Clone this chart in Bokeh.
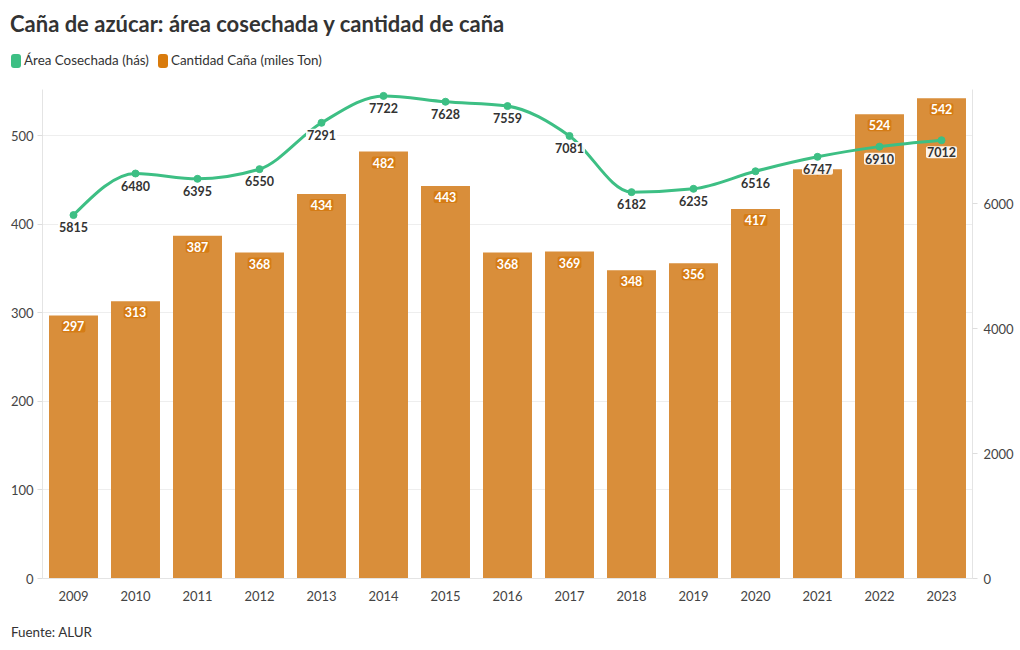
import numpy as np
from bokeh.plotting import figure
from bokeh.layouts import column
from bokeh.models import Range1d, LinearAxis, ColumnDataSource, FixedTicker, Div
from bokeh.core.properties import value
from bokeh.embed import file_html
from bokeh.resources import INLINE

# ---------------- data ----------------
years = [2009, 2010, 2011, 2012, 2013, 2014, 2015, 2016, 2017, 2018, 2019, 2020, 2021, 2022, 2023]
area_ha = [5815, 6480, 6395, 6550, 7291, 7722, 7628, 7559, 7081, 6182, 6235, 6516, 6747, 6910, 7012]
cane_kton = [297, 313, 387, 368, 434, 482, 443, 368, 369, 348, 356, 417, 462, 524, 542]
cane_label_hidden = [2021]
left_ticks = [0, 100, 200, 300, 400, 500]
right_ticks = [0, 2000, 4000, 6000]
series_names = ["Área Cosechada (hás)", "Cantidad Caña (miles Ton)"]
title_text = "Caña de azúcar: área cosechada y cantidad de caña"
source_text = "Fuente: ALUR"

FONT = "Lato"
GREEN = "#3dbf84"
ORANGE = "#d97b0c"
BAR = "#d98e3a"
TXT = "#333333"
TICK = "#444444"

W, H, HEAD, FOOT = 1020, 650, 89, 30

# ================= header (title + legend) =================
def swatch(color):
    return ('<span style="display:inline-block;width:10px;height:14px;border-radius:3px;'
            f'background:{color};vertical-align:-3px;margin-right:3px"></span>')

head_html = (
    f'<div style="position:relative;width:{W}px;height:{HEAD}px;font-family:{FONT};color:{TXT}">'
    f'<div style="position:absolute;left:10px;top:10px;font-size:22px;font-weight:bold;'
    f'line-height:28px;white-space:nowrap">{title_text}</div>'
    f'<div style="position:absolute;left:11px;top:51px;font-size:13.4px;line-height:18px;'
    f'white-space:nowrap">'
    f'{swatch(GREEN)}{series_names[0]}'
    f'<span style="display:inline-block;width:9px"></span>'
    f'{swatch(ORANGE)}{series_names[1]}</div></div>'
)
head = Div(text=head_html, width=W, height=HEAD, margin=0)

foot_html = (
    f'<div style="position:relative;width:{W}px;height:{FOOT}px;font-family:{FONT};color:{TXT}">'
    f'<div style="position:absolute;left:11px;top:3px;font-size:13.4px;line-height:18px;'
    f'white-space:nowrap">{source_text}</div></div>'
)
foot = Div(text=foot_html, width=W, height=FOOT, margin=0)

# ================= main chart =================
xs = np.arange(len(years), dtype=float)

p = figure(width=W, height=H - HEAD - FOOT, output_backend="svg", toolbar_location=None,
           title=None,
           x_range=Range1d(-0.5, len(years) - 0.5), y_range=Range1d(0, 552),
           min_border_left=42, min_border_right=48, min_border_bottom=42,
           min_border_top=0)
p.extra_y_ranges = {"right": Range1d(0, 7824)}
p.background_fill_color = "white"
p.border_fill_color = "white"
p.outline_line_color = None

p.xaxis.ticker = FixedTicker(ticks=list(xs))
p.xaxis.major_label_overrides = {float(i): str(y) for i, y in zip(xs, years)}
p.xaxis.major_tick_line_color = None
p.xaxis.minor_tick_line_color = None
p.xaxis.axis_line_color = "#e4e4e4"
p.xaxis.major_label_text_font = FONT
p.xaxis.major_label_text_font_size = "13px"
p.xaxis.major_label_text_color = TICK
p.xaxis.major_label_standoff = 6

p.yaxis.ticker = FixedTicker(ticks=left_ticks)
p.yaxis.axis_line_color = "#e4e4e4"
p.yaxis.major_tick_line_color = "#dddddd"
p.yaxis.major_tick_in = 0
p.yaxis.major_tick_out = 5
p.yaxis.minor_tick_line_color = None
p.yaxis.major_label_text_font = FONT
p.yaxis.major_label_text_font_size = "13px"
p.yaxis.major_label_text_color = TICK
p.yaxis.major_label_standoff = 4

raxis = LinearAxis(y_range_name="right", ticker=FixedTicker(ticks=right_ticks))
raxis.axis_line_color = "#e4e4e4"
raxis.major_tick_line_color = "#dddddd"
raxis.major_tick_in = 0
raxis.major_tick_out = 5
raxis.minor_tick_line_color = None
raxis.major_label_text_font = FONT
raxis.major_label_text_font_size = "13px"
raxis.major_label_text_color = TICK
raxis.major_label_standoff = 6
p.add_layout(raxis, "right")

p.xgrid.grid_line_color = None
p.ygrid.grid_line_color = "#eeeeee"
p.ygrid.grid_line_width = 1

# bars
bar_src = ColumnDataSource(dict(
    x=xs, top=cane_kton,
    label=["" if y in cane_label_hidden else str(v) for y, v in zip(years, cane_kton)]))
p.vbar(x="x", top="top", width=0.79, source=bar_src, fill_color=BAR, line_color=None)
p.text(x="x", y="top", text="label", source=bar_src, text_align="center",
       text_baseline="top", y_offset=5, text_color="white",
       text_font=value(FONT), text_font_style="bold", text_font_size="12.5px",
       background_fill_color="#d47a12", background_fill_alpha=0.9,
       padding=1, border_radius=2)

# smooth line: monotone cubic through the data points
y = np.array(area_ha, dtype=float)
n = len(xs)
h = np.diff(xs)
s = np.diff(y) / h
t = np.zeros(n)
for i in range(1, n - 1):
    s0, s1 = s[i - 1], s[i]
    pp = (s0 * h[i] + s1 * h[i - 1]) / (h[i - 1] + h[i])
    t[i] = (np.sign(s0) + np.sign(s1)) * min(abs(s0), abs(s1), 0.5 * abs(pp))
t[0] = (3 * s[0] - t[1]) / 2
t[-1] = (3 * s[-1] - t[-2]) / 2
dx = h / 3.0
bz = ColumnDataSource(dict(
    x0=xs[:-1], y0=y[:-1], x1=xs[1:], y1=y[1:],
    cx0=xs[:-1] + dx, cy0=y[:-1] + dx * t[:-1],
    cx1=xs[1:] - dx, cy1=y[1:] - dx * t[1:]))
p.bezier(x0="x0", y0="y0", x1="x1", y1="y1", cx0="cx0", cy0="cy0", cx1="cx1",
         cy1="cy1", source=bz, line_color=GREEN, line_width=3, y_range_name="right")

line_src = ColumnDataSource(dict(x=xs, y=area_ha, label=[str(v) for v in area_ha]))
p.scatter(x="x", y="y", source=line_src, size=7, fill_color=GREEN, line_color=GREEN,
          y_range_name="right")
p.text(x="x", y="y", text="label", source=line_src, text_align="center",
       text_baseline="top", y_offset=6, text_color=TXT, y_range_name="right",
       text_font=value(FONT), text_font_style="bold", text_font_size="12.5px",
       background_fill_color="white", background_fill_alpha=0.9,
       padding=1, border_radius=2)

layout = column(head, p, foot, spacing=0)
open("out.html", "w").write(file_html(layout, INLINE))
